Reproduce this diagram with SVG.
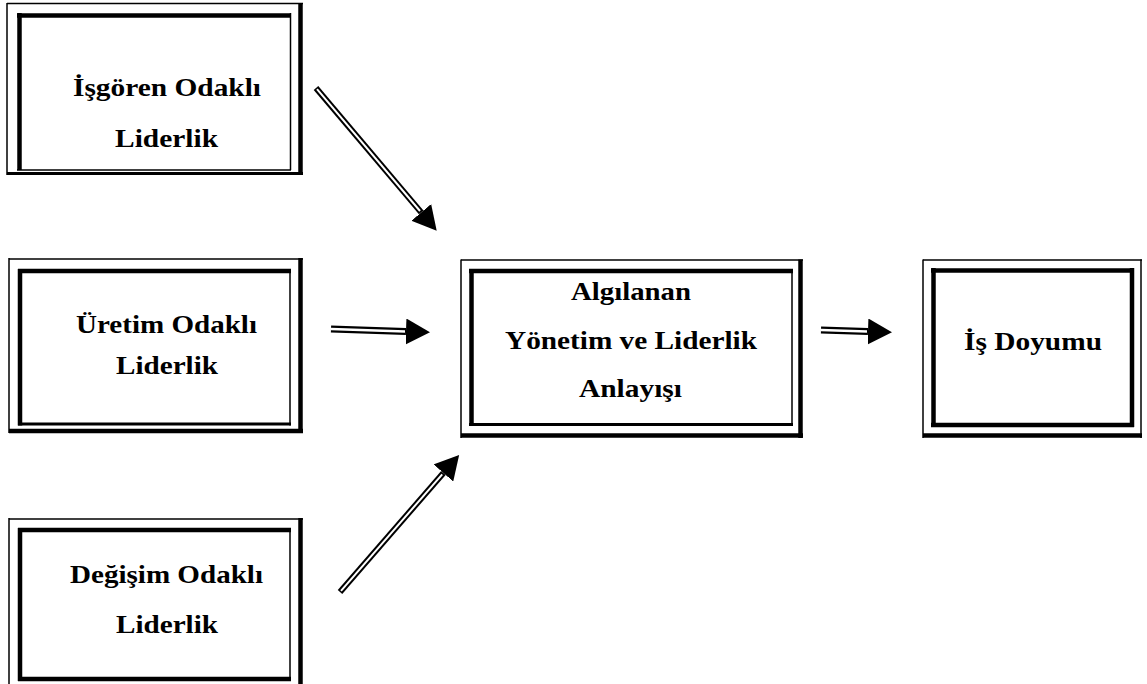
<svg xmlns="http://www.w3.org/2000/svg" width="1147" height="684" viewBox="0 0 1147 684">
<style>
  .bg{fill:#fff}
  .thin{stroke:#000;stroke-width:1.5;fill:none}
  .mid{stroke:#000;stroke-width:3;fill:none}
  .thick{stroke:#000;stroke-width:4.5;fill:none}
  .lbl{font-family:"Liberation Serif","Times New Roman",serif;font-weight:bold;font-size:26px;fill:#000}
  .shaft{stroke:#000;fill:none}
  .gap{stroke:#fff;fill:none}
</style>
<defs>
  <marker id="head" markerUnits="userSpaceOnUse" viewBox="0 0 24 26" refX="0" refY="13" markerWidth="24" markerHeight="26" orient="auto">
    <path d="M0,0 L24,13 L0,26 Z" fill="#000"/>
  </marker>
</defs>
<rect class="bg" x="0" y="0" width="1147" height="684"/>

<g id="node-isgoren">
  <line class="thin" x1="7" y1="3.5" x2="303" y2="3.5"/>
  <line class="thin" x1="7" y1="3" x2="7" y2="175"/>
  <line class="thick" x1="300.5" y1="3" x2="300.5" y2="175"/>
  <line class="mid" x1="7" y1="173.5" x2="303" y2="173.5"/>
  <line class="thick" x1="17" y1="15.5" x2="291" y2="15.5"/>
  <line class="thick" x1="19.5" y1="13" x2="19.5" y2="170"/>
  <line class="thin" x1="290.5" y1="13" x2="290.5" y2="170"/>
  <line class="thin" x1="17" y1="170" x2="291" y2="170"/>
  <text class="lbl" x="73" y="96" textLength="188" lengthAdjust="spacingAndGlyphs">İşgören Odaklı</text>
  <text class="lbl" x="115" y="147" textLength="103" lengthAdjust="spacingAndGlyphs">Liderlik</text>
</g>

<g id="node-uretim">
  <line class="thin" x1="9" y1="259" x2="303" y2="259"/>
  <line class="thin" x1="9" y1="258" x2="9" y2="433"/>
  <line class="thick" x1="300.5" y1="258" x2="300.5" y2="433"/>
  <line class="thick" x1="9" y1="431" x2="303" y2="431"/>
  <line class="thick" x1="18" y1="271" x2="291" y2="271"/>
  <line class="thick" x1="20" y1="269" x2="20" y2="425.5"/>
  <line class="thin" x1="290" y1="269" x2="290" y2="425.5"/>
  <line class="mid" x1="18" y1="424" x2="291" y2="424"/>
  <text class="lbl" x="76" y="333" textLength="181" lengthAdjust="spacingAndGlyphs">Üretim Odaklı</text>
  <text class="lbl" x="116" y="374" textLength="102" lengthAdjust="spacingAndGlyphs">Liderlik</text>
</g>

<g id="node-degisim">
  <line class="thin" x1="9" y1="519" x2="303" y2="519"/>
  <line class="thin" x1="9" y1="518" x2="9" y2="684"/>
  <line class="thick" x1="300.5" y1="518" x2="300.5" y2="684"/>
  <line class="thick" x1="18" y1="530" x2="291" y2="530"/>
  <line class="thick" x1="20" y1="528" x2="20" y2="681"/>
  <line class="thin" x1="290" y1="528" x2="290" y2="681"/>
  <line class="thick" x1="18" y1="679" x2="291" y2="679"/>
  <text class="lbl" x="70" y="583" textLength="193" lengthAdjust="spacingAndGlyphs">Değişim Odaklı</text>
  <text class="lbl" x="116" y="633" textLength="102" lengthAdjust="spacingAndGlyphs">Liderlik</text>
</g>

<g id="node-algilanan">
  <line class="thin" x1="461" y1="260" x2="803" y2="260"/>
  <line class="thin" x1="461" y1="259.5" x2="461" y2="438"/>
  <line class="thick" x1="800.5" y1="259.5" x2="800.5" y2="438"/>
  <line class="thick" x1="461" y1="435.5" x2="803" y2="435.5"/>
  <line class="thick" x1="469" y1="271" x2="793" y2="271"/>
  <line class="thick" x1="471.5" y1="269" x2="471.5" y2="426"/>
  <line class="thin" x1="792" y1="269" x2="792" y2="426"/>
  <line class="mid" x1="469" y1="424.5" x2="793" y2="424.5"/>
  <text class="lbl" x="571" y="300" textLength="120" lengthAdjust="spacingAndGlyphs">Algılanan</text>
  <text class="lbl" x="505" y="349" textLength="252" lengthAdjust="spacingAndGlyphs">Yönetim ve Liderlik</text>
  <text class="lbl" x="579" y="397" textLength="103" lengthAdjust="spacingAndGlyphs">Anlayışı</text>
</g>

<g id="node-isdoyumu">
  <line class="thin" x1="923" y1="260" x2="1142" y2="260"/>
  <line class="thin" x1="923" y1="259.5" x2="923" y2="438"/>
  <line class="thin" x1="1141" y1="259.5" x2="1141" y2="438"/>
  <line class="thick" x1="923" y1="435.5" x2="1142" y2="435.5"/>
  <line class="thick" x1="931" y1="270.5" x2="1134" y2="270.5"/>
  <line class="thick" x1="933.5" y1="268" x2="933.5" y2="427"/>
  <line class="thick" x1="1132" y1="268" x2="1132" y2="427"/>
  <line class="thick" x1="931" y1="425" x2="1134" y2="425"/>
  <text class="lbl" x="964" y="350" textLength="138" lengthAdjust="spacingAndGlyphs">İş Doyumu</text>
</g>

<g id="connectors">
  <!-- İşgören -> Algılanan -->
  <line class="shaft" stroke-width="6" x1="316" y1="88" x2="421.2" y2="212.4" marker-end="url(#head)"/>
  <line class="gap" stroke-width="2" x1="317" y1="89.2" x2="420" y2="211"/>
  <!-- Üretim -> Algılanan -->
  <line class="shaft" stroke-width="7" x1="331" y1="329" x2="406" y2="331.5" marker-end="url(#head)"/>
  <line class="gap" stroke-width="2.5" x1="331" y1="329" x2="405" y2="331.5"/>
  <!-- Algılanan -> İş Doyumu -->
  <line class="shaft" stroke-width="7" x1="821" y1="330" x2="868" y2="331.5" marker-end="url(#head)"/>
  <line class="gap" stroke-width="2.5" x1="821" y1="330" x2="867" y2="331.5"/>
  <!-- Değişim -> Algılanan -->
  <line class="shaft" stroke-width="6" x1="340" y1="592" x2="443.4" y2="473" marker-end="url(#head)"/>
  <line class="gap" stroke-width="2" x1="341" y1="590.8" x2="442.2" y2="474.4"/>
</g>
</svg>
